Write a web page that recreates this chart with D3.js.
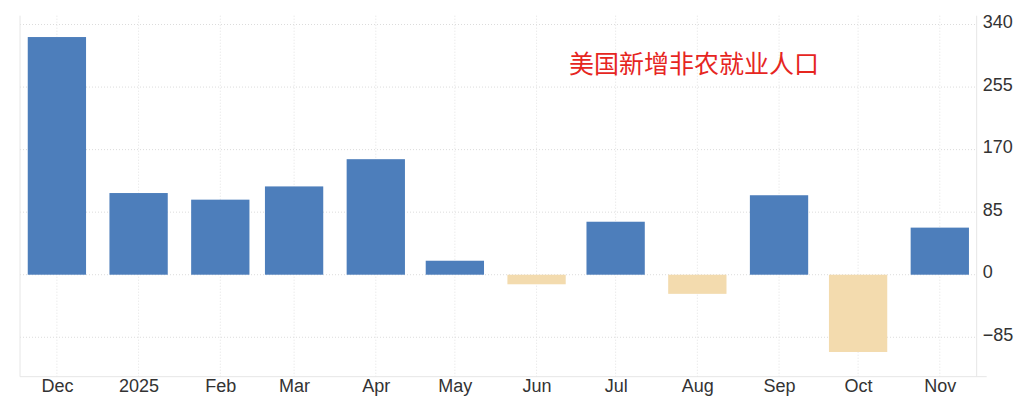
<!DOCTYPE html>
<html><head><meta charset="utf-8">
<script src="https://cdn.jsdelivr.net/npm/d3@7"></script>
<style>
html,body{margin:0;padding:0;background:#fff;}
svg{display:block;}
</style></head>
<body>
<svg id="chart" width="1024" height="409"></svg>
<script>
const months = ["2024-12-01","2025-01-01","2025-02-01","2025-03-01","2025-04-01","2025-05-01","2025-06-01","2025-07-01","2025-08-01","2025-09-01","2025-10-01","2025-11-01"];
const tickLabels = ["Dec","2025","Feb","Mar","Apr","May","Jun","Jul","Aug","Sep","Oct","Nov"];
const values = [323,111,102,120,157,19,-13,72,-26,108,-105,64];
const yTicks = [-85,0,85,170,255,340];
const title = "美国新增非农就业人口";

const svg = d3.select("#chart");
const L = 20, R = 976.7, T = 15.7, B = 376.7;
const dates = months.map(s => new Date(s + "T00:00:00Z"));
const x = d3.scaleUtc().domain([new Date("2024-11-17T00:00:00Z"), new Date("2025-11-15T00:00:00Z")]).range([L, R]);
const y = d3.scaleLinear().domain([-138.6, 352]).range([B, T]);
const barW = 58.3;

// grid
const grid = svg.append("g");
grid.selectAll("line.h").data(yTicks).enter().append("line")
  .attr("x1", L).attr("x2", R).attr("y1", d => y(d)).attr("y2", d => y(d))
  .attr("stroke", "#dcdcdc").attr("stroke-dasharray", "1,2").attr("stroke-width", 1);
grid.selectAll("line.v").data(dates).enter().append("line")
  .attr("y1", T).attr("y2", B).attr("x1", d => x(d)).attr("x2", d => x(d))
  .attr("stroke", "#e2e2e2").attr("stroke-dasharray", "1,2").attr("stroke-width", 1);

// plot border
svg.append("line").attr("x1", L).attr("x2", L).attr("y1", T).attr("y2", B).attr("stroke", "#e6e6e6");
svg.append("line").attr("x1", R).attr("x2", R).attr("y1", T).attr("y2", B).attr("stroke", "#e6e6e6");
svg.append("line").attr("x1", L).attr("x2", R + 10).attr("y1", B).attr("y2", B).attr("stroke", "#e6e6e6");

// bars
svg.append("g").selectAll("rect").data(values).enter().append("rect")
  .attr("x", (d, i) => x(dates[i]) - barW / 2)
  .attr("width", barW)
  .attr("y", d => y(Math.max(0, d)))
  .attr("height", d => Math.abs(y(d) - y(0)))
  .attr("fill", d => d >= 0 ? "#4d7ebb" : "#f3dbae");

// y axis (right)
const yAxis = d3.axisRight(y).tickValues(yTicks).tickSize(0).tickPadding(6).tickFormat(d3.format("d"));
const gy = svg.append("g").attr("transform", `translate(${R},0)`).call(yAxis);
gy.select(".domain").remove();
gy.selectAll("text").attr("font-family", "Liberation Sans, Arial, sans-serif").attr("font-size", 18).attr("fill", "#333")
  .attr("transform", "translate(0,-2.5)");

// x axis
const xAxis = d3.axisBottom(x).tickValues(dates).tickSize(0).tickPadding(3).tickFormat((d, i) => tickLabels[i]);
const gx = svg.append("g").attr("transform", `translate(0,${B})`).call(xAxis);
gx.select(".domain").remove();
gx.selectAll("text").attr("font-family", "Liberation Sans, Arial, sans-serif").attr("font-size", 18).attr("fill", "#333");

// title
svg.append("text").attr("x", 569).attr("y", 73).text(title)
  .attr("font-family", "Noto Sans CJK SC, sans-serif").attr("font-size", 25).attr("fill", "#e6261f");
</script>
</body></html>
